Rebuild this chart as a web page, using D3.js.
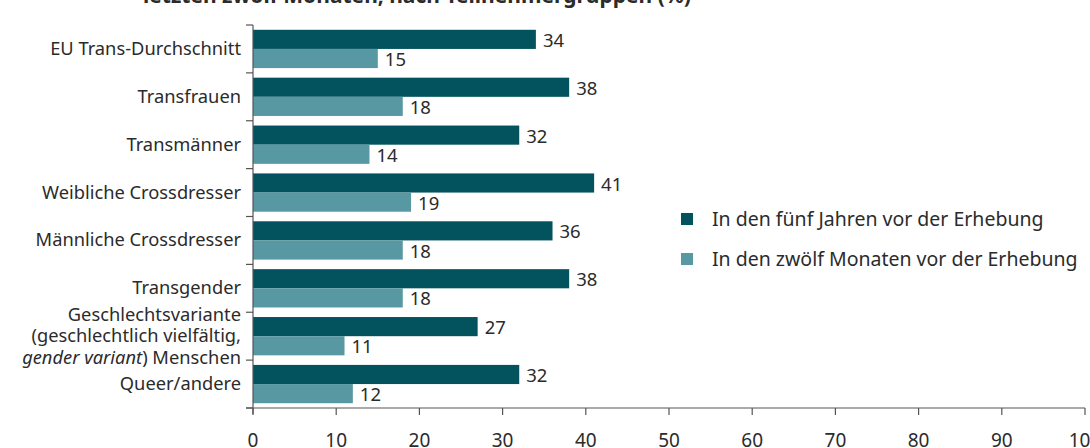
<!DOCTYPE html>
<html>
<head>
<meta charset="utf-8">
<script src="https://cdn.jsdelivr.net/npm/d3@7"></script>
<style>
	body { margin: 0; background: #fff; }
	svg { display: block; font-family: 'Noto Sans', sans-serif; }
	.axis-line { stroke: #555; stroke-width: 1.2; fill: none; }
	.cat-label { font-size: 18.3px; fill: #2b2b2b; }
	.val-label { font-size: 18.5px; fill: #2b2b2b; }
	.tick-label { font-size: 19px; fill: #2b2b2b; }
	.legend-label { font-size: 19.5px; fill: #2b2b2b; }
</style>
</head>
<body>
<svg id="chart" width="1090" height="448"></svg>
<script>
const categories = [
	['EU Trans-Durchschnitt'],
	['Transfrauen'],
	['Transmänner'],
	['Weibliche Crossdresser'],
	['Männliche Crossdresser'],
	['Transgender'],
	['Geschlechtsvariante', '(geschlechtlich vielfältig,', '<i>gender variant</i>) Menschen'],
	['Queer/andere']
]
const fiveYears = [34, 38, 32, 41, 36, 38, 27, 32]
const twelveMonths = [15, 18, 14, 19, 18, 18, 11, 12]
const seriesNames = ['In den fünf Jahren vor der Erhebung', 'In den zwölf Monaten vor der Erhebung']
const xTicks = [0, 10, 20, 30, 40, 50, 60, 70, 80, 90, 100]
const title = 'letzten zwölf Monaten, nach Teilnehmergruppen (%)'

const colours = ['#02535d', '#5898a2']

const plotLeft = 253
const plotTop = 25
const plotBottom = 408

const svg = d3.select('#chart')

const x = d3.scaleLinear()
	.domain([0, 100])
	.range([plotLeft, 1085])

const y = d3.scaleBand()
	.domain(d3.range(categories.length))
	.range([plotTop, plotBottom])
	.paddingInner(0.2)
	.paddingOuter(0.1)

const sub = d3.scaleBand()
	.domain([0, 1])
	.range([0, y.bandwidth()])

// title, cut off at the top like in the source
svg.append('text')
	.attr('x', 143)
	.attr('y', 3)
	.style('font-size', '21px')
	.style('font-weight', 'bold')
	.style('fill', '#2b2b2b')
	.text(title)

// bars
const rows = categories.map((c, i) => ({ i, vals: [fiveYears[i], twelveMonths[i]] }))

const groups = svg.append('g')
	.selectAll('g')
	.data(rows)
	.enter()
	.append('g')
	.attr('transform', d => `translate(0, ${y(d.i)})`)

groups.selectAll('rect')
	.data(d => d.vals.map((v, k) => ({ v, k })))
	.enter()
	.append('rect')
	.attr('x', x(0))
	.attr('y', d => sub(d.k))
	.attr('width', d => x(d.v) - x(0))
	.attr('height', sub.bandwidth())
	.attr('fill', d => colours[d.k])

groups.selectAll('.val-label')
	.data(d => d.vals.map((v, k) => ({ v, k })))
	.enter()
	.append('text')
	.attr('class', 'val-label')
	.attr('x', d => x(d.v) + 7)
	.attr('y', d => sub(d.k) + sub.bandwidth() - 2)
	.text(d => d.v)

// y axis: line with ticks at band boundaries
const axis = svg.append('g')
const boundaries = d3.range(categories.length + 1).map(i => plotTop + i * y.step())

axis.append('line')
	.attr('class', 'axis-line')
	.attr('x1', plotLeft).attr('x2', plotLeft)
	.attr('y1', plotTop).attr('y2', plotBottom + 6)

axis.selectAll('.ytick')
	.data(boundaries)
	.enter()
	.append('line')
	.attr('class', 'axis-line')
	.attr('x1', plotLeft - 7).attr('x2', plotLeft)
	.attr('y1', d => d).attr('y2', d => d)

// category labels
const lineH = 21.5
categories.forEach((lines, i) => {
	const cy = y(i) + y.bandwidth() / 2
	const t = svg.append('text')
		.attr('class', 'cat-label')
		.attr('text-anchor', 'end')
	lines.forEach((l, j) => {
		const yy = cy + (j - (lines.length - 1) / 2) * lineH + 6
		const span = t.append('tspan').attr('x', 241).attr('y', yy)
		const m = l.match(/^<i>(.*)<\/i>(.*)$/)
		if(m) {
			span.append('tspan').style('font-style', 'italic').text(m[1])
			span.append('tspan').text(m[2])
		} else {
			span.text(l)
		}
	})
})

// x axis
axis.append('line')
	.attr('class', 'axis-line')
	.attr('x1', plotLeft - 7).attr('x2', x(100))
	.attr('y1', plotBottom).attr('y2', plotBottom)

axis.selectAll('.xtick')
	.data(xTicks)
	.enter()
	.append('line')
	.attr('class', 'axis-line')
	.attr('x1', d => x(d)).attr('x2', d => x(d))
	.attr('y1', plotBottom).attr('y2', plotBottom + 7)

axis.selectAll('.tick-label')
	.data(xTicks)
	.enter()
	.append('text')
	.attr('class', 'tick-label')
	.attr('text-anchor', 'middle')
	.attr('x', d => x(d))
	.attr('y', 447)
	.text(d => d)

// legend
const legend = svg.append('g')
	.selectAll('g')
	.data(seriesNames)
	.enter()
	.append('g')
	.attr('transform', (d, i) => `translate(681, ${213 + i * 40})`)

legend.append('rect')
	.attr('width', 12)
	.attr('height', 12)
	.attr('fill', (d, i) => colours[i])

legend.append('text')
	.attr('class', 'legend-label')
	.attr('x', 31)
	.attr('y', 13)
	.text(d => d)
</script>
</body>
</html>
